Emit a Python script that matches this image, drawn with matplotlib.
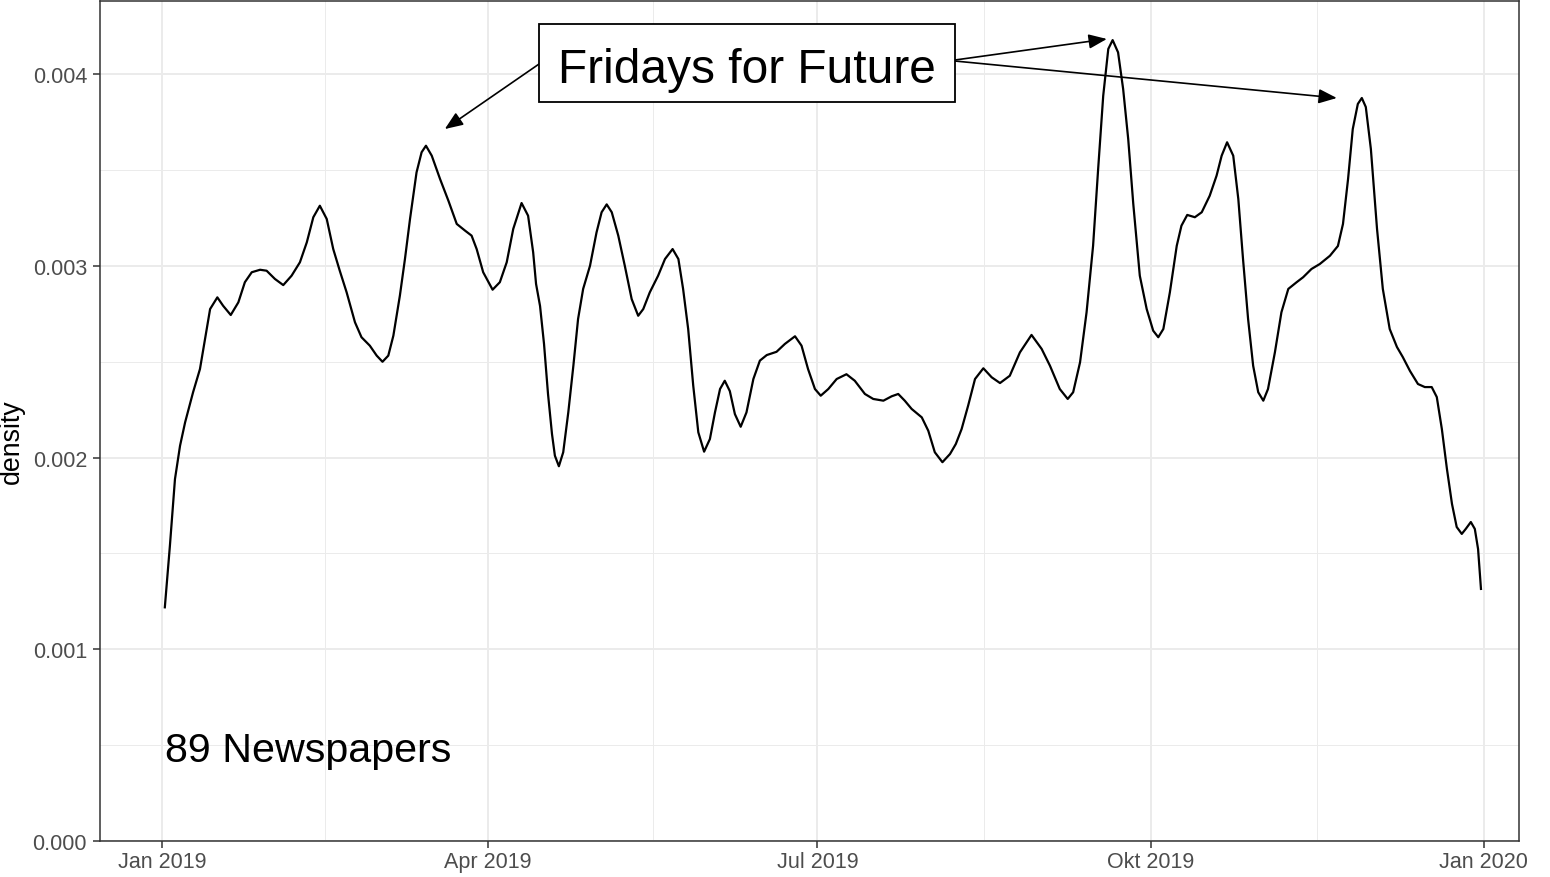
import numpy as np
import matplotlib
matplotlib.use("Agg")
import matplotlib.pyplot as plt
import matplotlib.dates as mdates
from matplotlib.patches import Rectangle

plt.rcParams["font.family"] = ["Liberation Sans", "DejaVu Sans"]

# days since 2019-01-01 and kernel density (in units of 1e-3)
start_date = np.datetime64("2019-01-01")
days = [
    0.8, 2.2, 3.6, 5.0, 6.4, 8.6, 10.5, 11.9, 13.3, 15.3,
    16.9, 19.0, 21.1, 22.9, 24.8, 27.1, 28.9, 31.2, 33.5, 35.8,
    38.1, 40.0, 41.8, 43.6, 45.5, 47.3, 49.1, 51.0, 53.3, 55.1,
    57.4, 59.3, 60.9, 62.5, 63.9, 65.7, 67.1, 68.5, 70.3, 71.7,
    72.9, 74.5, 76.8, 79.1, 81.4, 83.7, 85.5, 86.9, 88.7, 91.3,
    93.3, 95.2, 97.0, 99.3, 101.1, 102.5, 103.3, 104.4, 105.5, 106.6,
    107.7, 108.5, 109.6, 110.8, 112.2, 113.6, 114.9, 116.3, 118.2, 120.0,
    121.4, 122.8, 124.2, 126.0, 127.8, 129.7, 131.5, 132.9, 134.7, 137.0,
    138.9, 141.0, 142.6, 143.9, 145.3, 146.7, 148.1, 149.7, 151.3, 152.7,
    154.1, 155.4, 156.8, 158.2, 159.8, 161.4, 163.3, 165.1, 167.0, 169.7,
    172.0, 174.8, 176.6, 178.4, 180.3, 181.9, 184.0, 186.3, 189.0, 191.3,
    194.1, 196.4, 199.2, 201.5, 203.3, 205.1, 207.0, 209.8, 211.6, 213.4,
    215.5, 217.6, 219.2, 220.8, 222.6, 224.5, 226.8, 229.1, 231.4, 234.1,
    236.9, 240.1, 242.9, 245.2, 247.9, 250.1, 251.6, 253.5, 255.3, 257.1,
    258.5, 259.9, 261.3, 262.5, 264.0, 265.4, 266.8, 268.2, 270.0, 271.9,
    273.7, 275.1, 276.5, 278.3, 280.2, 281.5, 283.1, 285.2, 287.1, 289.3,
    291.2, 292.6, 294.1, 295.8, 297.2, 298.5, 299.9, 301.3, 302.7, 304.1,
    305.4, 307.3, 309.1, 311.0, 313.3, 315.1, 317.4, 319.7, 322.5, 324.7,
    326.1, 327.5, 328.8, 330.2, 331.3, 332.4, 333.8, 335.5, 337.1, 339.0,
    341.0, 342.6, 344.6, 346.8, 348.7, 350.6, 352.0, 353.4, 354.8, 356.2,
    357.5, 358.9, 360.0, 361.4, 362.5, 363.4, 364.2,
]
density = [
    1.219, 1.540, 1.888, 2.062, 2.184, 2.341, 2.462, 2.619, 2.775, 2.836,
    2.792, 2.744, 2.810, 2.915, 2.967, 2.980, 2.975, 2.932, 2.900, 2.949,
    3.019, 3.123, 3.254, 3.314, 3.245, 3.088, 2.975, 2.862, 2.706, 2.628,
    2.584, 2.532, 2.500, 2.532, 2.636, 2.845, 3.036, 3.245, 3.488, 3.593,
    3.627, 3.575, 3.453, 3.340, 3.219, 3.184, 3.158, 3.088, 2.967, 2.876,
    2.915, 3.019, 3.193, 3.328, 3.262, 3.071, 2.906, 2.791, 2.593, 2.332,
    2.123, 2.010, 1.955, 2.028, 2.236, 2.479, 2.723, 2.880, 3.001, 3.175,
    3.280, 3.321, 3.280, 3.158, 3.001, 2.827, 2.740, 2.775, 2.862, 2.949,
    3.036, 3.088, 3.036, 2.880, 2.671, 2.375, 2.132, 2.031, 2.097, 2.236,
    2.358, 2.401, 2.347, 2.227, 2.161, 2.236, 2.410, 2.506, 2.535, 2.552,
    2.593, 2.633, 2.584, 2.462, 2.358, 2.323, 2.358, 2.410, 2.435, 2.401,
    2.332, 2.306, 2.297, 2.320, 2.332, 2.297, 2.254, 2.210, 2.140, 2.028,
    1.976, 2.019, 2.071, 2.149, 2.271, 2.410, 2.466, 2.419, 2.389, 2.427,
    2.549, 2.640, 2.567, 2.479, 2.358, 2.306, 2.341, 2.497, 2.758, 3.105,
    3.506, 3.888, 4.132, 4.178, 4.114, 3.923, 3.662, 3.323, 2.949, 2.775,
    2.662, 2.628, 2.671, 2.862, 3.105, 3.210, 3.266, 3.254, 3.280, 3.366,
    3.471, 3.575, 3.645, 3.575, 3.349, 3.036, 2.723, 2.479, 2.341, 2.297,
    2.358, 2.549, 2.758, 2.880, 2.915, 2.941, 2.984, 3.010, 3.053, 3.104,
    3.219, 3.453, 3.714, 3.845, 3.876, 3.829, 3.610, 3.193, 2.880, 2.671,
    2.577, 2.525, 2.452, 2.384, 2.368, 2.368, 2.316, 2.149, 1.941, 1.758,
    1.638, 1.602, 1.628, 1.664, 1.628, 1.523, 1.315,
]

tick_dates = ["2019-01-01", "2019-04-01", "2019-07-01", "2019-10-01", "2020-01-01"]
tick_labels = ["Jan 2019", "Apr 2019", "Jul 2019", "Okt 2019", "Jan 2020"]
y_ticks = [0.000, 0.001, 0.002, 0.003, 0.004]
y_tick_labels = ["0.000", "0.001", "0.002", "0.003", "0.004"]

label_text = "Fridays for Future"
count_text = "89 Newspapers"

x0 = mdates.date2num(start_date)
x = x0 + np.array(days)
y = np.array(density) / 1000

major_x = np.array([mdates.date2num(np.datetime64(d)) for d in tick_dates])
minor_x = (major_x[:-1] + major_x[1:]) / 2
minor_y = np.array(y_ticks[:-1]) + 0.0005

fig = plt.figure(figsize=(15.5, 8.78), dpi=100)
fig.patch.set_facecolor("white")
ax = fig.add_axes([100 / 1550, 36 / 878, 1419 / 1550, 840 / 878])

ax.plot(x, y, color="black", lw=1.6, solid_joinstyle="round", zorder=3)

ax.set_xlim(x0 - 17.1, x0 + 374.7)
ax.set_ylim(0, 0.004382)

ax.set_xticks(major_x)
ax.set_xticklabels(tick_labels)
ax.set_xticks(minor_x, minor=True)
ax.set_yticks(y_ticks)
ax.set_yticklabels(y_tick_labels)
ax.set_yticks(minor_y, minor=True)

ax.grid(which="major", color="#EBEBEB", lw=1.4)
ax.grid(which="minor", color="#EBEBEB", lw=0.7)
ax.set_axisbelow(True)

ax.tick_params(which="major", length=5, width=1.1, color="#333333",
               labelsize=15.5, labelcolor="#4D4D4D")
ax.tick_params(axis="x", which="major", pad=2.5)
ax.tick_params(axis="y", which="major", pad=4.3)
ax.tick_params(which="minor", length=0)
for sp in ax.spines.values():
    sp.set_color("#333333")
    sp.set_linewidth(1.1)

fig.text(12 / 1550, 1 - 442 / 878, "density", rotation=90,
         ha="center", va="center", fontsize=19.3, color="black")

# annotation box with arrows to the three peaks
box_left, box_right = 104.1, 218.9
box_bottom, box_top = 0.003855, 0.004262
ax.add_patch(Rectangle((x0 + box_left, box_bottom), box_right - box_left,
                       box_top - box_bottom, facecolor="white",
                       edgecolor="black", lw=1.3, zorder=5))
ax.text(x0 + 161.6, 0.003959, label_text, ha="center", va="baseline",
        fontsize=34.5, color="black", zorder=6)

arrows = [
    ((104.1, 0.004053), (78.1, 0.003714)),
    ((218.9, 0.004074), (260.9, 0.004184)),
    ((218.9, 0.004069), (324.4, 0.003876)),
]
for (sx, sy), (tx, ty) in arrows:
    ax.annotate("", xy=(x0 + tx, ty), xytext=(x0 + sx, sy),
                arrowprops=dict(arrowstyle="-|>,head_length=0.55,head_width=0.22",
                                color="black", lw=1.2, shrinkA=0, shrinkB=0,
                                mutation_scale=20),
                zorder=4)

ax.text(x0 + 0.8, 0.000417, count_text, ha="left", va="baseline",
        fontsize=29.7, color="black", zorder=6)

fig.savefig("out.png", dpi=100)
